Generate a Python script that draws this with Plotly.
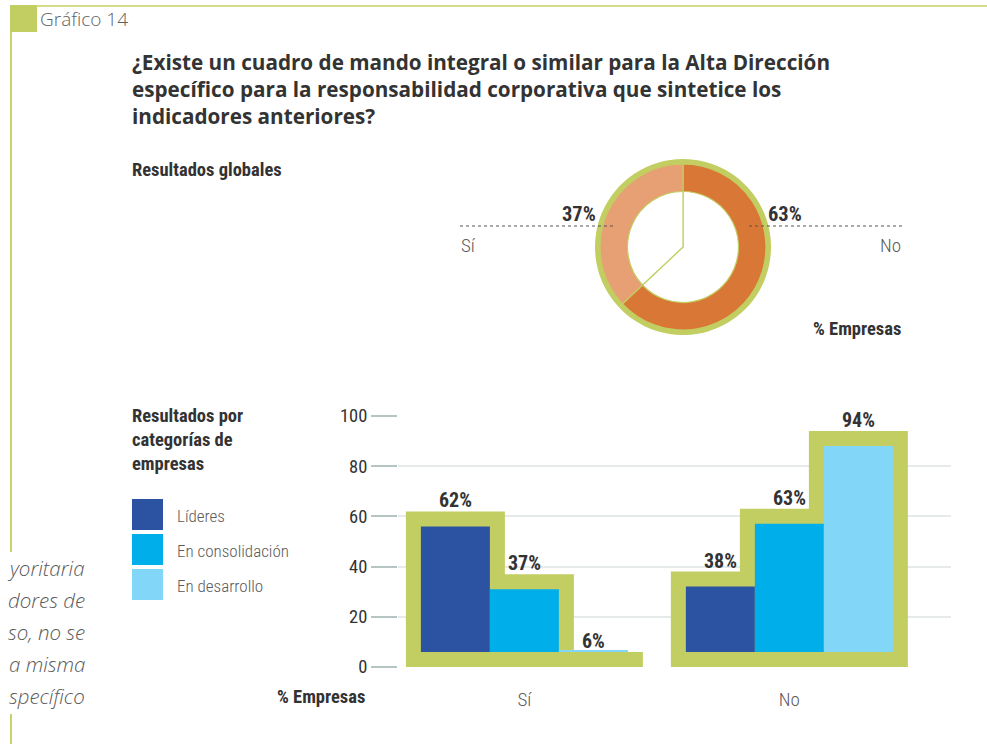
import plotly.graph_objects as go

# ---------------- data ----------------
global_labels = ["No", "Sí"]
global_values = [63, 37]

categories = ["Sí", "No"]
series_names = ["Líderes", "En consolidación", "En desarrollo"]
series_values = {
    "Líderes": [62, 38],
    "En consolidación": [37, 63],
    "En desarrollo": [6, 94],
}
y_ticks = [0, 20, 40, 60, 80, 100]

# ---------------- styles ----------------
W, H = 987, 744
GREEN = "#c2ce61"
GREEN_LINE = "#d4db8a"
ORANGE_DARK = "#d97836"
ORANGE_LIGHT = "#e6a073"
SERIES_COLORS = ["#2c53a1", "#00aeea", "#82d6f7"]
TEXT = "#333333"
GREY = "#5a5a5a"
NARROW = "Roboto Condensed, Liberation Sans Narrow, Roboto, sans-serif"
SANS = "Open Sans, Noto Sans, sans-serif"


def px_x(p):
    return p / W


def px_y(p):
    return 1 - p / H


fig = go.Figure()

# ---------------- donut (global results) ----------------
cx, cy = 683, 247
r_outer, r_ring, r_hole = 88, 83, 55.5


def pie_domain(r):
    return dict(x=[px_x(cx - r), px_x(cx + r)], y=[px_y(cy + r), px_y(cy - r)])


common = dict(labels=global_labels, values=global_values, sort=False,
              direction="clockwise", rotation=0, textinfo="none",
              hoverinfo="label+percent", showlegend=False, automargin=False)

# green rim
fig.add_trace(go.Pie(domain=pie_domain(r_outer),
                     marker=dict(colors=[GREEN, GREEN], line=dict(width=0)),
                     **common))
# white centre with the slice dividers running to the middle
fig.add_trace(go.Pie(domain=pie_domain(62),
                     marker=dict(colors=["white", "white"],
                                 line=dict(color=GREEN, width=1.2)),
                     **common))
# orange ring
fig.add_trace(go.Pie(domain=pie_domain(r_ring), hole=r_hole / r_ring,
                     marker=dict(colors=[ORANGE_DARK, ORANGE_LIGHT],
                                 line=dict(color=GREEN, width=1.2)),
                     **common))

# ---------------- bars by company category ----------------
x_left_px, x_right_px = 398, 951
y_top_px, y_bot_px = 416, 667
x_range = [-0.477, 1.61]
y_range = [0, 100]
px_per_x = (x_right_px - x_left_px) / (x_range[1] - x_range[0])
px_per_y = (y_bot_px - y_top_px) / (y_range[1] - y_range[0])

bar_w = 69 / px_per_x
border_px = 15
bx = border_px / px_per_x
by = border_px / px_per_y
offsets = [-bar_w, 0, bar_w]
group_x = list(range(len(categories)))

# green frames: each one reaches the bar's value
frame_x, frame_y = [], []
for i, name in enumerate(series_names):
    for g, v in zip(group_x, series_values[name]):
        frame_x.append(g + offsets[i])
        frame_y.append(v)
fig.add_trace(go.Bar(x=frame_x, y=frame_y, width=bar_w + 2 * bx,
                     marker=dict(color=GREEN, line=dict(width=0)),
                     hoverinfo="skip", showlegend=False,
                     xaxis="x", yaxis="y"))

# coloured cores inside the frames
for i, name in enumerate(series_names):
    vals = series_values[name]
    xs = [g + offsets[i] for g in group_x]
    heights = [max(v - 2 * by, 0.7) for v in vals]
    fig.add_trace(go.Bar(x=xs, y=heights, base=[by] * len(vals),
                         width=bar_w, name=name,
                         marker=dict(color=SERIES_COLORS[i], line=dict(width=0)),
                         customdata=vals,
                         hovertemplate=name + ": %{customdata}%<extra></extra>",
                         showlegend=False, xaxis="x", yaxis="y"))
    for x, v in zip(xs, vals):
        fig.add_annotation(x=x, y=v, xref="x", yref="y", text=f"{v}%",
                           showarrow=False, yanchor="bottom", yshift=-3,
                           font=dict(family=NARROW, size=20, color=TEXT,
                                     weight="bold"))

fig.update_layout(
    barmode="overlay",
    xaxis=dict(domain=[px_x(x_left_px), px_x(x_right_px)], range=x_range,
               tickvals=group_x, ticktext=categories, showgrid=False,
               zeroline=False, showline=False, ticks="", automargin=False,
               ticklabelstandoff=19,
               tickfont=dict(family=NARROW, size=19, color=GREY, weight=300)),
    yaxis=dict(domain=[px_y(y_bot_px), px_y(y_top_px)], range=y_range,
               tickvals=y_ticks, showgrid=True, gridcolor="#e7eaea",
               gridwidth=2, zeroline=False, showline=False, automargin=False,
               ticks="outside", ticklen=26, tickwidth=2, tickcolor="#b6c4c4",
               tickfont=dict(family=NARROW, size=18.5, color=TEXT)),
)

# ---------------- legend ----------------
shapes = []
sw_x0, sw_x1 = 132, 163
sw_tops = [499, 534, 569]
for name, color, top in zip(series_names, SERIES_COLORS, sw_tops):
    shapes.append(dict(type="rect", xref="paper", yref="paper",
                       x0=px_x(sw_x0), x1=px_x(sw_x1),
                       y0=px_y(top + 31), y1=px_y(top),
                       fillcolor=color, line=dict(width=0)))
    fig.add_annotation(xref="paper", yref="paper", x=px_x(175),
                       y=px_y(top + 17), text=name, showarrow=False,
                       xanchor="left", yanchor="middle",
                       font=dict(family=NARROW, size=17, color=GREY, weight=300))

# ---------------- page furniture ----------------
shapes += [
    dict(type="rect", xref="paper", yref="paper", x0=px_x(10), x1=px_x(37),
         y0=px_y(32), y1=px_y(5), fillcolor=GREEN, line=dict(width=0)),
    dict(type="line", xref="paper", yref="paper", x0=px_x(37), x1=1,
         y0=px_y(6), y1=px_y(6), line=dict(color=GREEN_LINE, width=2)),
    dict(type="line", xref="paper", yref="paper", x0=px_x(11), x1=px_x(11),
         y0=px_y(32), y1=px_y(552), line=dict(color="#c9d36a", width=2)),
    dict(type="line", xref="paper", yref="paper", x0=px_x(11), x1=px_x(11),
         y0=px_y(714), y1=0, line=dict(color="#c9d36a", width=2)),
    # dotted leaders of the donut labels
    dict(type="line", xref="paper", yref="paper", x0=px_x(460), x1=px_x(614),
         y0=px_y(226), y1=px_y(226), line=dict(color="#555555", width=1, dash="dot")),
    dict(type="line", xref="paper", yref="paper", x0=px_x(749), x1=px_x(902),
         y0=px_y(226), y1=px_y(226), line=dict(color="#555555", width=1, dash="dot")),
]
fig.update_layout(shapes=shapes)


def note(x, y, text, size, color=TEXT, family=NARROW, weight="normal",
         xanchor="left", yanchor="middle", italic=False):
    fig.add_annotation(xref="paper", yref="paper", x=px_x(x), y=px_y(y),
                       text=text, showarrow=False, xanchor=xanchor,
                       yanchor=yanchor, align=xanchor if xanchor != "center" else "center",
                       borderpad=0,
                       font=dict(family=family, size=size, color=color,
                                 weight=weight,
                                 style="italic" if italic else "normal"))


note(39, 19, "Gráfico 14", 19, color="#5f5f5f", family=SANS, weight=300)
note(131, 47, "¿Existe un cuadro de mando integral o similar para la Alta Dirección<br>"
     "específico para la responsabilidad corporativa que sintetice los<br>"
     "indicadores anteriores?", 20.7, color="#333333", family=SANS,
     weight="bold", yanchor="top")

note(131, 170, "Resultados globales", 18.5, weight="bold")
note(131, 440, "Resultados por<br>categorías de<br>empresas", 18.5, weight="bold")

# donut labels
no_v, si_v = global_values[0], global_values[1]
note(597, 214, f"{si_v}%", 20.5, weight="bold", xanchor="right")
note(767, 214, f"{no_v}%", 20.5, weight="bold", xanchor="left")
note(460, 245, "Sí", 19, color=GREY, xanchor="left", weight=300)
note(902, 245, "No", 19, color=GREY, xanchor="right", weight=300)
note(902, 329, "% Empresas", 18.5, weight="bold", xanchor="right")
note(366, 697, "% Empresas", 18.5, weight="bold", xanchor="right")

# side-column text cut at the page edge
side_lines = ["yoritaria", "dores de", "so, no se", "a misma", "specífico"]
for k, line in enumerate(side_lines):
    note(86, 568 + k * 32, line, 20.5, color="#5a5a5a", family=SANS,
         xanchor="right", italic=True, weight=300)

fig.update_layout(width=W, height=H, margin=dict(l=0, r=0, t=0, b=0, pad=0),
                  paper_bgcolor="white", plot_bgcolor="white",
                  showlegend=False)

fig.write_html("out.html")
